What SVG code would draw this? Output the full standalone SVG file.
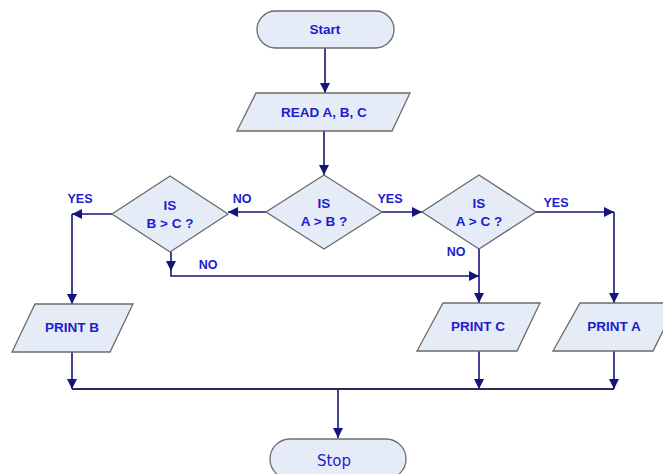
<svg xmlns="http://www.w3.org/2000/svg" width="663" height="474" viewBox="0 0 663 474">
<defs>
<style>
.shape{fill:#e6ecf7;stroke:#6b6b6b;stroke-width:1.3}
.lbl{font-family:"Liberation Sans",Arial,sans-serif;font-weight:bold;font-size:13.5px;fill:#1c1cd0;text-anchor:middle}
.term{font-family:"DejaVu Sans",sans-serif;font-size:15px;fill:#1c1cd0;text-anchor:middle}
.edge{fill:none;stroke:#14147a;stroke-width:1.6}
.elbl{font-family:"Liberation Sans",Arial,sans-serif;font-weight:bold;font-size:12.5px;fill:#1c1cd0;text-anchor:middle}
</style>
<marker id="arr" viewBox="0 0 10 10" refX="10" refY="5" markerWidth="10" markerHeight="10" markerUnits="userSpaceOnUse" orient="auto">
<path d="M0,0 L10,5 L0,10 z" fill="#14147a"/>
</marker>
</defs>
<rect width="663" height="474" fill="#ffffff"/>
<g id="connectors">
<path class="edge" d="M325,48 V93" marker-end="url(#arr)"/>
<path class="edge" d="M324,131 V175" marker-end="url(#arr)"/>
<path class="edge" d="M266,212 H228" marker-end="url(#arr)"/>
<path class="edge" d="M382,212 H422" marker-end="url(#arr)"/>
<path class="edge" d="M112,214 H72" marker-end="url(#arr)"/>
<path class="edge" d="M72,214 V304" marker-end="url(#arr)"/>
<path class="edge" d="M171,252 V271" marker-end="url(#arr)"/>
<path class="edge" d="M171,271 V276 H479" marker-end="url(#arr)"/>
<path class="edge" d="M479,249 V303" marker-end="url(#arr)"/>
<path class="edge" d="M536,212 H614" marker-end="url(#arr)"/>
<path class="edge" d="M614,212 V303" marker-end="url(#arr)"/>
<path class="edge" d="M72,352 V389" marker-end="url(#arr)"/>
<path class="edge" d="M479,351 V389" marker-end="url(#arr)"/>
<path class="edge" d="M614,351 V389" marker-end="url(#arr)"/>
<path d="M72,389 H614" fill="none" stroke="#2a2a55" stroke-width="1.8"/>
<path class="edge" d="M338,389 V438" marker-end="url(#arr)"/>
<text class="elbl" x="242" y="203">NO</text>
<text class="elbl" x="390" y="203">YES</text>
<text class="elbl" x="80" y="203">YES</text>
<text class="elbl" x="208" y="269">NO</text>
<text class="elbl" x="556" y="207">YES</text>
<text class="elbl" x="456" y="256">NO</text>
</g>
<g id="start">
<rect class="shape" x="257" y="11" width="137" height="37" rx="18.5"/>
<text class="lbl" x="325" y="34">Start</text>
</g>
<g id="read">
<polygon class="shape" points="256,93 410,93 392,131 237,131"/>
<text class="lbl" x="324" y="117">READ A, B, C</text>
</g>
<g id="a_gt_b">
<polygon class="shape" points="324,175 382,212 324,249 266,212"/>
<text class="lbl" x="324" y="208">IS</text>
<text class="lbl" x="324" y="226">A &gt; B ?</text>
</g>
<g id="b_gt_c">
<polygon class="shape" points="170,176 228,214 170,252 112,214"/>
<text class="lbl" x="170" y="210">IS</text>
<text class="lbl" x="170" y="228">B &gt; C ?</text>
</g>
<g id="a_gt_c">
<polygon class="shape" points="479,175 536,212 479,249 422,212"/>
<text class="lbl" x="479" y="208">IS</text>
<text class="lbl" x="479" y="226">A &gt; C ?</text>
</g>
<g id="print_b">
<polygon class="shape" points="35,304 133,304 110,352 12,352"/>
<text class="lbl" x="72" y="332">PRINT B</text>
</g>
<g id="print_c">
<polygon class="shape" points="443,303 540,303 517,351 417,351"/>
<text class="lbl" x="478" y="331">PRINT C</text>
</g>
<g id="print_a">
<polygon class="shape" points="580,303 677,303 653,351 553,351"/>
<text class="lbl" x="614" y="331">PRINT A</text>
</g>
<g id="stop">
<rect class="shape" x="270" y="439" width="136" height="40" rx="20"/>
<text class="term" x="334" y="466">Stop</text>
</g>
</svg>
